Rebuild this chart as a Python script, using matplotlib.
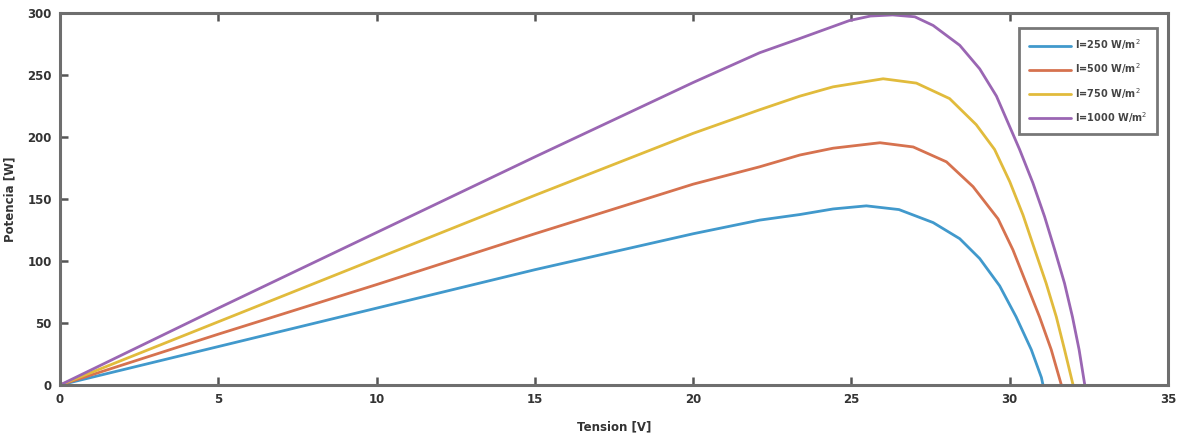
import matplotlib
matplotlib.use("Agg")
import matplotlib.pyplot as plt

# Voltage [V] / Power [W]
v_250 = [0, 5, 10, 15, 20, 22.1, 23.37, 24.42, 25.47, 26.5, 27.58, 28.42, 29.05, 29.68, 30.2, 30.68, 31.0, 31.05]
p_250 = [0, 31, 62, 93, 122, 133, 137.5, 142, 144.5, 141.5, 131, 118, 102, 80, 55, 28.5, 6, 0]

v_500 = [0, 5, 10, 15, 20, 22.1, 23.37, 24.42, 25.9, 26.95, 28.0, 28.84, 29.63, 30.1, 30.52, 30.94, 31.31, 31.63]
p_500 = [0, 41, 81, 122, 162, 176, 185.5, 191, 195.4, 192, 180, 160, 134, 109, 82, 55, 28.5, 0]

v_750 = [0, 5, 10, 15, 20, 22.1, 23.37, 24.42, 26.0, 27.05, 28.1, 28.94, 29.52, 30.0, 30.42, 30.79, 31.15, 31.47, 31.73, 32.0]
p_750 = [0, 51, 102, 153, 203, 222, 233, 240.5, 247, 243.5, 231, 210, 190, 164, 137, 109, 82, 55, 28.5, 0]

v_1000 = [0, 5, 10, 15, 20, 22.1, 23.37, 24.94, 25.6, 26.3, 27.0, 27.58, 28.42, 29.05, 29.58, 30.31, 30.73, 31.1, 31.42, 31.73, 31.98, 32.19, 32.37]
p_1000 = [0, 62, 123, 184, 244, 268, 279.5, 294, 297.6, 298.5, 297, 290, 274, 255, 233, 190, 163, 135.8, 109, 82, 55, 28.5, 0]

labels = [r"I=250 W/m$^2$", r"I=500 W/m$^2$", r"I=750 W/m$^2$", r"I=1000 W/m$^2$"]
colors = ["#4199cc", "#d6724f", "#e1bb3c", "#9a66b3"]

x_ticks = [0, 5, 10, 15, 20, 25, 30, 35]
y_ticks = [0, 50, 100, 150, 200, 250, 300]

fig = plt.figure(figsize=(11.77, 4.34), dpi=100)
ax = fig.add_axes([0.051, 0.1129, 0.9414, 0.857])

series = [(v_250, p_250), (v_500, p_500), (v_750, p_750), (v_1000, p_1000)]
for (v, p), lab, c in zip(series, labels, colors):
    ax.plot(v, p, color=c, lw=2.0, label=lab, solid_capstyle="round", solid_joinstyle="round")

ax.set_xlim(0, 35)
ax.set_ylim(0, 300)
ax.set_xticks(x_ticks)
ax.set_yticks(y_ticks)

edge = "#6e6e6e"
for s in ax.spines.values():
    s.set_color(edge)
    s.set_linewidth(2.2)
ax.tick_params(direction="in", length=6, width=1.8, color="#555555",
               top=True, right=False, labelsize=8.5, labelcolor="#333333", pad=6)
for lbl in ax.get_xticklabels() + ax.get_yticklabels():
    lbl.set_fontweight("bold")

ax.set_ylabel("Potencia [W]", fontsize=8.5, fontweight="bold", color="#333333", labelpad=8)
ax.set_xlabel("Tension [V]", fontsize=8.5, fontweight="bold", color="#333333", labelpad=10)

leg = ax.legend(loc="upper right", bbox_to_anchor=(0.990, 0.960), borderaxespad=0,
                fontsize=7, handlelength=4.4, frameon=True, fancybox=False, borderpad=1.0,
                labelspacing=0.95, handletextpad=0.35)
leg.get_frame().set_edgecolor("#555555")
leg.get_frame().set_linewidth(2.0)
for t in leg.get_texts():
    t.set_color("#444444")
    t.set_fontweight("bold")

fig.savefig("out.png", dpi=100)
